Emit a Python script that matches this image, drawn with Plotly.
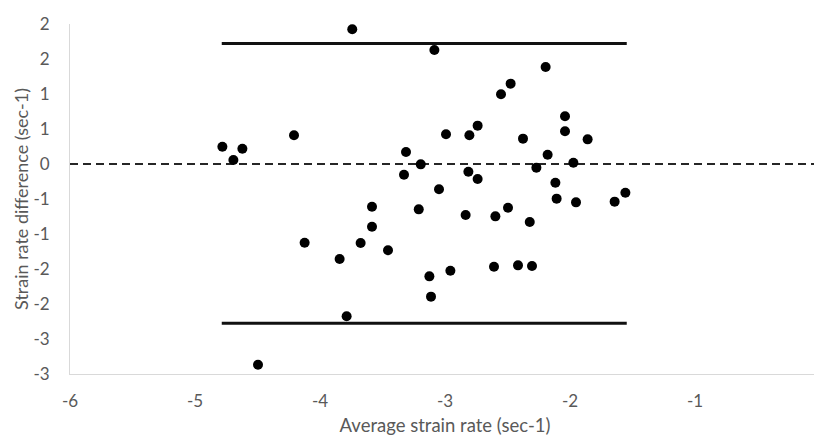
import plotly.graph_objects as go

avg_rate = [-3.742, -3.085, -4.781, -4.621, -4.693, -4.208, -3.312, -3.328, -3.194, -2.992,
            -3.048, -2.805, -2.739, -2.813, -2.739, -2.552, -2.475, -2.195, -2.040, -2.040,
            -2.376, -1.859, -2.179, -2.269, -1.973, -2.117, -2.107, -1.952, -1.643, -1.557,
            -2.835, -2.597, -2.496, -2.322, -3.584, -3.210, -3.584, -4.123, -3.675, -3.456,
            -3.843, -3.125, -2.957, -2.608, -3.112, -3.787, -4.496, -2.416, -2.304]
diff_rate = [1.924, 1.629, 0.247, 0.219, 0.057, 0.410, 0.171, -0.153, -0.005, 0.424,
             -0.361, 0.410, 0.548, -0.110, -0.214, 0.996, 1.148, 1.386, 0.681, 0.467,
             0.362, 0.352, 0.133, -0.052, 0.019, -0.267, -0.495, -0.548, -0.538, -0.410,
             -0.729, -0.748, -0.624, -0.829, -0.610, -0.648, -0.896, -1.124, -1.129, -1.233,
             -1.357, -1.605, -1.524, -1.467, -1.895, -2.176, -2.867, -1.448, -1.457]

limit_x = [-4.786, -1.546]
upper_limit = 1.72
lower_limit = -2.276
mean_x = [-6, 0]
mean_diff = 0

x_ticks = [-6, -5, -4, -3, -2, -1, 0]
x_ticktext = ["-6", "-5", "-4", "-3", "-2", "-1", "0"]
y_ticks = [-3, -2.5, -2, -1.5, -1, -0.5, 0, 0.5, 1, 1.5, 2]
y_ticktext = ["-3", "-3", "-2", "-2", "-1", "-1", "0", "1", "1", "2", "2"]

fig = go.Figure()
fig.add_trace(go.Scatter(x=mean_x, y=[mean_diff] * 2, mode="lines",
                         line=dict(color="#262626", width=2, dash="8px,5px"), hoverinfo="skip"))
fig.add_trace(go.Scatter(x=limit_x, y=[upper_limit] * 2, mode="lines",
                         line=dict(color="#111111", width=3), hoverinfo="skip"))
fig.add_trace(go.Scatter(x=limit_x, y=[lower_limit] * 2, mode="lines",
                         line=dict(color="#111111", width=3), hoverinfo="skip"))
fig.add_trace(go.Scatter(x=avg_rate, y=diff_rate, mode="markers",
                         marker=dict(color="black", size=10), cliponaxis=False))

font_family = "Lato, 'Open Sans', sans-serif"
grey = "#595959"
fig.update_layout(
    width=822, height=428,
    margin=dict(l=62, r=10, t=16, b=62),
    paper_bgcolor="white", plot_bgcolor="white",
    showlegend=False,
    font=dict(family=font_family, color=grey, size=17),
    xaxis=dict(range=[-6, 0], tickvals=x_ticks, ticktext=x_ticktext, showgrid=False, zeroline=False,
               showline=True, linecolor="#d9d9d9", linewidth=1, ticks="", automargin=False,
               ticklabelstandoff=12,
               tickfont=dict(size=17, color=grey),
               title=dict(text="Average strain rate (sec-1)", font=dict(size=18.5, color=grey), standoff=9)),
    yaxis=dict(range=[-3, 2], tickvals=y_ticks, ticktext=y_ticktext, showgrid=False, zeroline=False,
               showline=True, linecolor="#d9d9d9", linewidth=1, ticks="", automargin=False,
               ticklabelstandoff=16,
               tickfont=dict(size=17, color=grey),
               title=dict(text="Strain rate difference (sec-1)", font=dict(size=18, color=grey), standoff=0)),
)
fig.write_html("out.html")
